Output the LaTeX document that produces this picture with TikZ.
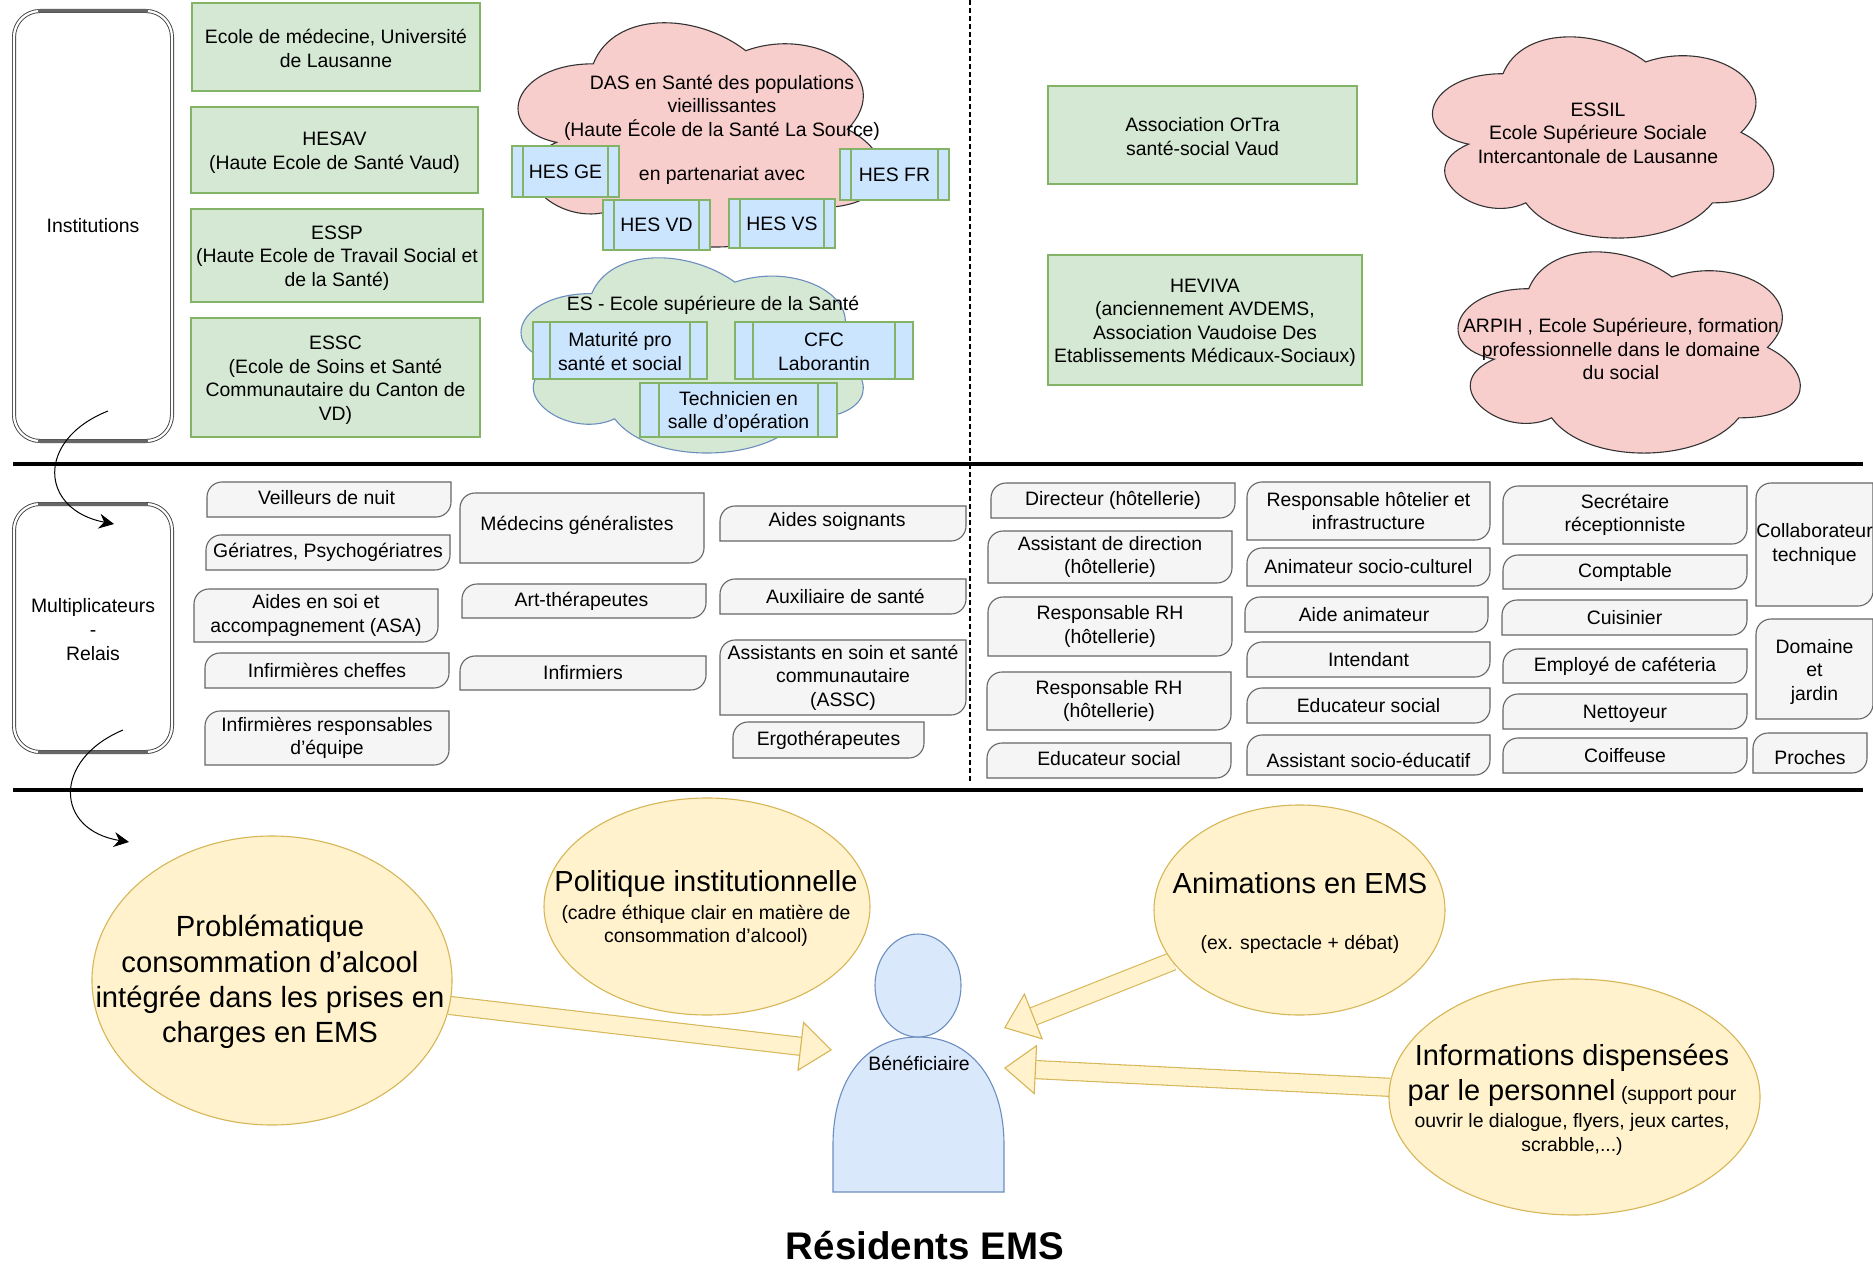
\documentclass[tikz,border=0pt]{standalone}
\usepackage{fontspec}
\setmainfont{Liberation Sans}
\usetikzlibrary{positioning,backgrounds,shapes.geometric,arrows.meta}

\definecolor{greenfill}{HTML}{D5E8D4}
\definecolor{greenline}{HTML}{82B366}
\definecolor{pinkfill}{HTML}{F8CECC}
\definecolor{bluefill}{HTML}{CCE5FF}
\definecolor{actorfill}{HTML}{DAE8FC}
\definecolor{actorline}{HTML}{6C8EBF}
\definecolor{cardfill}{HTML}{F5F5F5}
\definecolor{cardline}{HTML}{666666}
\definecolor{yellowfill}{HTML}{FFF2CC}
\definecolor{yellowline}{HTML}{D6B656}

\tikzset{
  span/.style args={(#1,#2) (#3,#4)}{at={({(#1+#3)/2},{(#2+#4)/2})},
    minimum width={(#3-#1)*1pt}, minimum height={(#4-#2)*1pt}},
  txt/.style={inner sep=0, outer sep=0, align=center, font=\fontsize{19.4}{23.6}\selectfont},
  bigtxt/.style={inner sep=0, outer sep=0, align=center, font=\fontsize{29.2}{35.4}\selectfont},
  groupbox/.style={txt, draw=black!75, line width=.9pt, double, double distance=2.2pt, rounded corners=26pt},
  orgbox/.style={txt, draw=greenline, fill=greenfill, line width=1.3pt},
  hesbox/.style={txt, draw=greenline, fill=bluefill, line width=1.3pt,
    path picture={
      \draw[greenline, line width=1.3pt] ([xshift=#1]path picture bounding box.north west) -- ([xshift=#1]path picture bounding box.south west);
      \draw[greenline, line width=1.3pt] ([xshift=-#1]path picture bounding box.north east) -- ([xshift=-#1]path picture bounding box.south east);
    }},
  hesbox/.default=11pt,
  cardbox/.style={txt,
    append after command={\pgfextra{
      \begin{pgfonlayer}{background}
      \draw[draw=cardline, fill=cardfill, line width=1.1pt]
        (\tikzlastnode.south west) [rounded corners=15pt] -- (\tikzlastnode.north west)
        [sharp corners] -- (\tikzlastnode.north east)
        [rounded corners=15pt] -- (\tikzlastnode.south east) [sharp corners] -- cycle;
      \end{pgfonlayer}}}},
  yellowell/.style={ellipse, inner sep=0, outer sep=0, draw=yellowline, fill=yellowfill, line width=1.1pt},
  bigarrow/.style={draw=yellowline, double=yellowfill, line width=1.1pt, double distance=17pt,
    -{Triangle[length=32pt, width=50pt, fill=yellowfill, line width=1.1pt]}},
  curvearrow/.style={black, line width=1pt, -{Stealth[length=15pt, width=15pt, inset=5pt]}},
  sepline/.style={black, line width=3.4pt},
  cloudline/.style={fill=pinkfill, draw=black!80, line width=1.1pt},
  edgeline/.style={black!60, line width=3pt},
}

% draw.io outline of a cloud: style, left, top, width, height
\newcommand{\cloudat}[5]{
  \draw[#1, shift={(#2,#3)}, x=#4pt, y=-#5pt] (.25,.25)
    .. controls (.05,.25) and (0,.5) .. (.16,.55)
    .. controls (0,.66) and (.18,.9) .. (.31,.8)
    .. controls (.4,1) and (.7,1) .. (.8,.8)
    .. controls (1,.8) and (1,.6) .. (.875,.5)
    .. controls (1,.3) and (.8,.1) .. (.625,.2)
    .. controls (.5,.05) and (.3,.05) .. (.25,.25) -- cycle;
}
% text a little off the middle of its box
\newcommand{\nudge}[3]{\raisebox{#2}[\height][\depth]{\hspace*{#1}#3}}
\newcommand{\lowered}[1]{\rule{0pt}{#1}}

\begin{document}
\begin{tikzpicture}[x=1pt, y=-1pt]
\useasboundingbox (0,0) rectangle (1873,1265);

\node[groupbox, span={(14,11) (172,441)}] (inst) {Institutions};
\node[groupbox, span={(14,504) (172,752)}] (multi) {\lowered{17pt}Multiplicateurs\\-\\Relais};
\draw[edgeline] ([xshift=24]inst.north west) -- ([xshift=-24]inst.north east);
\draw[edgeline] ([xshift=24]inst.south west) -- ([xshift=-24]inst.south east);
\draw[edgeline] ([xshift=24]multi.north west) -- ([xshift=-24]multi.north east);
\draw[edgeline] ([xshift=24]multi.south west) -- ([xshift=-24]multi.south east);

\node[orgbox, span={(192,3) (480,91)}] (medecine) {\lowered{17pt}Ecole de médecine, Université\\de Lausanne};
\node[orgbox, span={(191,107) (478,193)}] (hesav) {\lowered{19pt}HESAV\\(Haute Ecole de Santé Vaud)};
\node[orgbox, span={(191,209) (483,302)}] (essp) {\lowered{19pt}ESSP\\(Haute Ecole de Travail Social et\\de la Santé)};
\node[orgbox, span={(191,318) (480,437)}] (essc) {\lowered{19pt}ESSC\\(Ecole de Soins et Santé\\Communautaire du Canton de\\VD)};
\node[orgbox, span={(1048,86) (1357,184)}] (ortra) {\lowered{17pt}Association OrTra\\santé-social Vaud};
\node[orgbox, span={(1048,255) (1362,385)}] (heviva) {\lowered{19pt}HEVIVA\\(anciennement AVDEMS,\\Association Vaudoise Des\\Etablissements Médicaux-Sociaux)};

\cloudat{cloudline}{491.6}{-1.6}{406.7}{261.7}
\cloudat{fill=greenfill, draw=actorline, line width=1.1pt}{496.2}{236.6}{382}{227.8}
\cloudat{cloudline}{1407.7}{15}{381}{234.8}
\cloudat{cloudline}{1433.2}{230}{382}{234.8}

\node[txt] (das) at (722,107.5) {DAS en Santé des populations\\vieillissantes\\(Haute École de la Santé La Source)};
\node[txt] (part) at (722,175.5) {en partenariat avec};
\node[txt] (es) at (713,305) {ES - Ecole supérieure de la Santé};
\node[txt] (essil) at (1598,133) {ESSIL\\Ecole Supérieure Sociale\\Intercantonale de Lausanne};
\node[txt] (arpih) at (1621,349) {ARPIH , Ecole Supérieure, formation\\professionnelle dans le domaine\\du social};

\node[hesbox, span={(512,146) (619,197)}] (hesge) {HES GE};
\node[hesbox, span={(840,149) (949,200)}] (hesfr) {HES FR};
\node[hesbox, span={(603,200) (710,250)}] (hesvd) {HES VD};
\node[hesbox, span={(729,199) (835,248)}] (hesvs) {HES VS};
\node[hesbox=17pt, span={(533,322) (707,379)}] (matu) {\lowered{16pt}Maturité pro\\santé et social};
\node[hesbox=18pt, span={(735,322) (913,379)}] (cfc) {\lowered{16pt}CFC\\Laborantin};
\node[hesbox=19pt, span={(640,383) (837,437)}] (techn) {\lowered{18pt}Technicien en\\salle d'opération};

\node[cardbox, span={(207,482) (451,517)}] (veil) {\nudge{-5pt}{2.4pt}{Veilleurs de nuit}};
\node[cardbox, span={(206,535) (450,570)}] (geri) {Gériatres, Psychogériatres};
\node[cardbox, span={(194,589) (438,642)}] (asa) {Aides en soi et\\accompagnement (ASA)};
\node[cardbox, span={(205,653) (449,688)}] (infche) {Infirmières cheffes};
\node[cardbox, span={(205,711) (449,765)}] (infres) {Infirmières responsables\\d'équipe};
\node[cardbox, span={(460,493) (704,563)}] (medgen) {\nudge{-10pt}{2.4pt}{Médecins généralistes}};
\node[cardbox, span={(462,584) (706,618)}] (art) {\nudge{-5pt}{0pt}{Art-thérapeutes}};
\node[cardbox, span={(460,656) (706,690)}] (infir) {Infirmiers};
\node[cardbox, span={(720,506) (966,541)}] (aidsoi) {\nudge{-12pt}{2.4pt}{Aides soignants}};
\node[cardbox, span={(720,579) (966,614)}] (auxi) {\nudge{5pt}{0pt}{Auxiliaire de santé}};
\node[cardbox, span={(720,640) (966,715)}] (assc) {Assistants en soin et santé\\communautaire\\(ASSC)};
\node[cardbox, span={(733,722) (924,758)}] (ergo) {Ergothérapeutes};

\node[cardbox, span={(991,483) (1235,518)}] (direc) {Directeur (hôtellerie)};
\node[cardbox, span={(988,531) (1232,583)}] (assdir) {Assistant de direction\\(hôtellerie)};
\node[cardbox, span={(988,597) (1232,656)}] (rhone) {Responsable RH\\(hôtellerie)};
\node[cardbox, span={(987,672) (1231,730)}] (rhtwo) {Responsable RH\\(hôtellerie)};
\node[cardbox, span={(987,743) (1231,778)}] (educone) {\nudge{0pt}{2.4pt}{Educateur social}};
\node[cardbox, span={(1247,482) (1490,540)}] (hotel) {Responsable hôtelier et\\infrastructure};
\node[cardbox, span={(1247,548) (1490,586)}] (anim) {Animateur socio-culturel};
\node[cardbox, span={(1245,597) (1488,632)}] (aidanim) {\nudge{-5pt}{0pt}{Aide animateur}};
\node[cardbox, span={(1247,642) (1490,677)}] (inten) {Intendant};
\node[cardbox, span={(1247,688) (1490,723)}] (eductwo) {Educateur social};
\node[cardbox, span={(1247,735) (1490,775)}] (socio) {\nudge{0pt}{-5pt}{Assistant socio-éducatif}};
\node[cardbox, span={(1503,486) (1747,544)}] (secr) {Secrétaire\\réceptionniste};
\node[cardbox, span={(1503,555) (1747,589)}] (compt) {Comptable};
\node[cardbox, span={(1502,600) (1747,635)}] (cuis) {Cuisinier};
\node[cardbox, span={(1503,649) (1747,683)}] (cafe) {Employé de caféteria};
\node[cardbox, span={(1503,694) (1747,729)}] (nett) {\nudge{0pt}{-2.4pt}{Nettoyeur}};
\node[cardbox, span={(1503,738) (1747,773)}] (coif) {Coiffeuse};
\node[cardbox, span={(1756,483) (1873,606)}] (collab) {Collaborateur\\technique};
\node[cardbox, span={(1756,619) (1873,719)}] (domaine) {\lowered{20pt}Domaine\\et\\jardin};
\node[cardbox, span={(1753,733) (1867,773)}] (proches) {\nudge{0pt}{-5pt}{Proches}};

\draw[sepline] (13,464) -- (1863,464);
\draw[sepline] (13,790) -- (1863,790);
\draw[black, line width=1.4pt, dash pattern=on 5pt off 3pt] (970,0) -- (970,783);

\coordinate (instout) at (108,411);
\coordinate (multiin) at (114,524);
\coordinate (multiout) at (123,730);
\coordinate (ellin) at (129,842);
\draw[curvearrow] (instout) .. controls (35,440) and (40,510) .. (multiin);
\draw[curvearrow] (multiout) .. controls (52,760) and (55,830) .. (ellin);

\node[yellowell, span={(92,836) (452,1125)}] (prob) {};
\node[yellowell, span={(544,798) (870,1015)}] (poli) {};
\node[yellowell, span={(1154,805) (1445,1015)}] (anima) {};
\node[yellowell, span={(1389,979) (1760,1215)}] (info) {};

\node[bigtxt] (probtxt) at (270,982) {Problématique\\consommation d'alcool\\intégrée dans les prises en\\charges en EMS};
\node[txt] (politxt) at (706,908.5) {{\fontsize{29}{29}\selectfont Politique institutionnelle}\\[4pt](cadre éthique clair en matière de\\consommation d'alcool)};
\node[txt] (animtxt) at (1300,913) {{\fontsize{29}{29}\selectfont Animations en EMS}\\[32pt](ex. spectacle + débat)};
\node[txt] (infotxt) at (1572,1099.5) {{\fontsize{29}{29}\selectfont Informations dispensées}\\[7pt]{\fontsize{29}{29}\selectfont par le personnel} (support pour\\[4pt]ouvrir le dialogue, flyers, jeux cartes,\\scrabble,...)};

\coordinate (tipprob) at (832,1050);
\coordinate (tipanim) at (1004,1028);
\coordinate (tipinfo) at (1004,1068);
\begin{pgfonlayer}{background}
\draw[bigarrow] (prob.-8) -- (tipprob);
\draw[bigarrow] (anima.202) -- (tipanim);
\draw[bigarrow] (info.177) -- (tipinfo);
\end{pgfonlayer}

\draw[fill=actorfill, draw=actorline, line width=1.1pt] (833,1192) -- (833,1145)
  .. controls (833,1080) and (865,1037) .. (918,1037)
  .. controls (971,1037) and (1004,1080) .. (1004,1145) -- (1004,1192) -- cycle;
\node[ellipse, inner sep=0, outer sep=0, fill=actorfill, draw=actorline, line width=1.1pt, span={(875,934) (961,1037)}] (head) {};
\node[txt] (benef) at (919,1063) {Bénéficiaire};

\node[inner sep=0, outer sep=0, font=\fontsize{38.5}{46}\selectfont\bfseries] (titre) at (925,1246) {Résidents EMS};
\end{tikzpicture}
\end{document}
